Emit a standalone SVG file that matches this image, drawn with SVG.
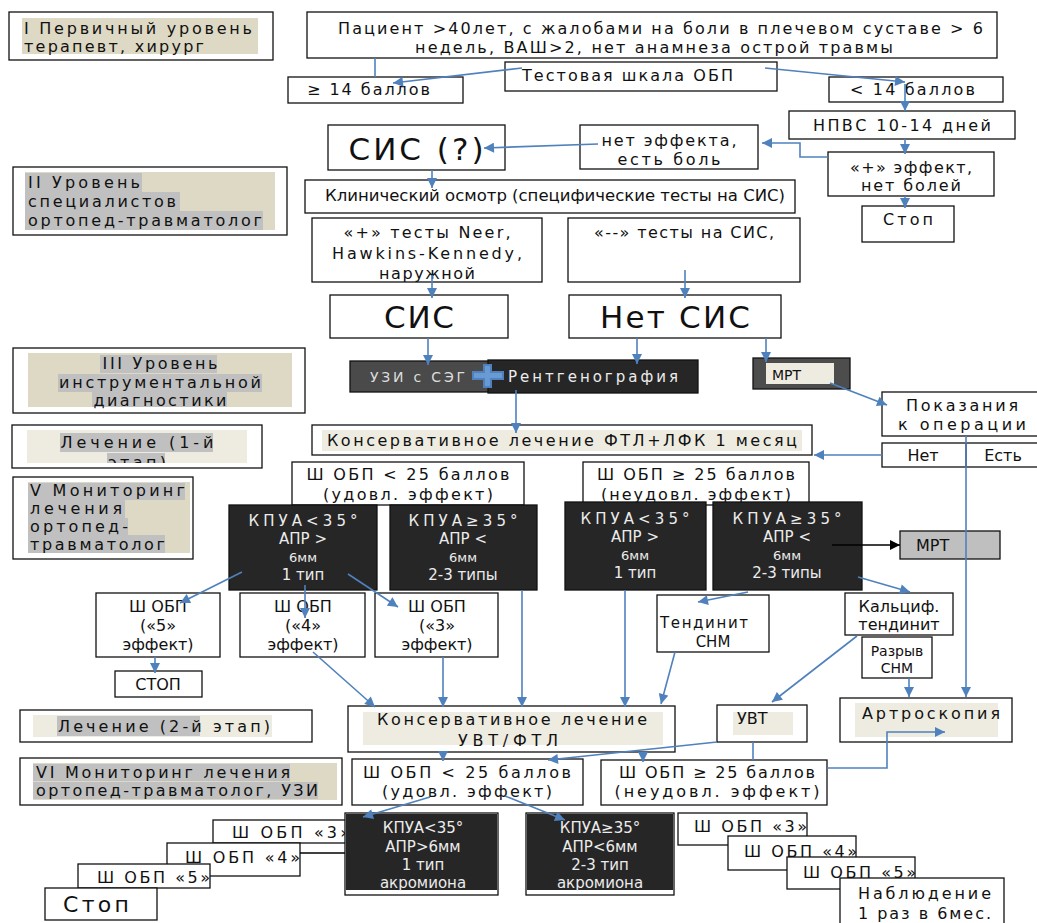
<svg xmlns="http://www.w3.org/2000/svg" width="1037" height="923" viewBox="0 0 1037 923">
<style>
text{font-family:"DejaVu Sans","Liberation Sans",Verdana,sans-serif;font-size:16px;fill:#111}
.b{fill:#fff;stroke:#111;stroke-width:1.3}
.d{fill:#262626;stroke:#111;stroke-width:1.3}
.w{fill:#ececec;font-size:15px}
.m{text-anchor:middle}
.big{font-size:31px}
.s{font-size:13px}
.c{fill:none;stroke:#4f81bd;stroke-width:1.6}
.k{fill:none;stroke:#000;stroke-width:1.3}
.hb{fill:#ddd9c4}.hg{fill:#c0c0c0}.hl{fill:#eeece1}
</style>
<defs>
<marker id="a" viewBox="0 0 10 10" refX="10" refY="5" markerWidth="11" markerHeight="10" markerUnits="userSpaceOnUse" orient="auto"><path d="M0,0 L10,5 L0,10 z" fill="#4f81bd"/></marker>
<marker id="ak" viewBox="0 0 10 10" refX="10" refY="5" markerWidth="11" markerHeight="10" markerUnits="userSpaceOnUse" orient="auto"><path d="M0,0 L10,5 L0,10 z" fill="#000"/></marker>
<clipPath id="cl4"><rect x="12" y="425" width="250" height="38"/></clipPath>
</defs>
<rect width="1037" height="923" fill="#fff"/>

<g id="lvl1"><rect class="b" x="9" y="12" width="264" height="48"/><rect class="hb" x="22" y="18" width="236" height="36"/>
<text x="24" y="34" textLength="228">I Первичный уровень</text><text x="24" y="52" textLength="180">терапевт, хирург</text></g>

<g id="patient"><rect class="b" x="307" y="12" width="690" height="46"/>
<text x="338" y="34" textLength="645">Пациент &gt;40лет, с жалобами на боли в плечевом суставе &gt; 6</text>
<text x="415" y="53" textLength="478">недель, ВАШ&gt;2, нет анамнеза острой травмы</text></g>

<g id="test"><rect class="b" x="505" y="62" width="272" height="29"/><text x="522" y="81" textLength="211">Тестовая шкала ОБП</text></g>
<g id="ge14"><rect class="b" x="288" y="77" width="175" height="26"/><text x="307" y="95" textLength="123">≥ 14 баллов</text></g>
<g id="lt14"><rect class="b" x="829" y="77" width="174" height="25"/><text x="850" y="95" textLength="125">&lt; 14 баллов</text></g>
<g id="nsaid"><rect class="b" x="789" y="111" width="226" height="28"/><text class="m" x="902" y="131" textLength="178">НПВС 10-14 дней</text></g>
<g id="sisq"><rect class="b" x="328" y="125" width="177" height="45"/><text class="m big" x="416" y="160" textLength="135">СИС (?)</text></g>
<g id="noeff"><rect class="b" x="580" y="125" width="178" height="44"/><text class="m" x="669" y="146" textLength="135">нет эффекта,</text><text class="m" x="669" y="165" textLength="103">есть боль</text></g>
<g id="poseff"><rect class="b" x="828" y="152" width="166" height="44"/><text class="m" x="911" y="173" textLength="122">«+» эффект,</text><text class="m" x="911" y="191" textLength="100">нет болей</text></g>
<g id="stop1"><rect class="b" x="862" y="206" width="92" height="36"/><text class="m" x="908" y="225" textLength="50">Стоп</text></g>

<g id="lvl2"><rect class="b" x="13" y="167" width="274" height="68"/><rect class="hb" x="25" y="172" width="250" height="58"/>
<rect class="hg" x="25" y="173" width="117" height="19"/><rect class="hg" x="25" y="192" width="155" height="19"/><rect class="hg" x="25" y="211" width="238" height="19"/>
<text x="28" y="188" textLength="112">II Уровень</text><text x="28" y="207" textLength="148">специалистов</text><text x="28" y="226" textLength="234">ортопед-травматолог</text></g>

<g id="clin"><rect class="b" x="305" y="180" width="490" height="33"/><text x="325" y="201" textLength="460" lengthAdjust="spacingAndGlyphs">Клинический осмотр (специфические тесты на СИС)</text></g>
<g id="postest"><rect class="b" x="312" y="218" width="230" height="64"/><text class="m" x="427" y="238" textLength="167">«+» тесты Neer,</text><text class="m" x="427" y="259" textLength="190">Hawkins-Kennedy,</text><text class="m" x="427" y="279" textLength="96">наружной</text></g>
<g id="negtest"><rect class="b" x="568" y="218" width="232" height="64"/><text class="m" x="684" y="238" textLength="180">«--» тесты на СИС,</text></g>
<g id="sis"><rect class="b" x="330" y="295" width="178" height="43"/><text class="m big" x="419" y="328" textLength="70">СИС</text></g>
<g id="nosis"><rect class="b" x="569" y="295" width="212" height="43"/><text class="m big" x="675" y="328" textLength="150">Нет СИС</text></g>

<g id="lvl3"><rect class="b" x="13" y="348" width="292" height="65"/><rect class="hb" x="28" y="353" width="264" height="54"/>
<rect class="hg" x="100" y="355" width="117" height="18"/><rect class="hg" x="58" y="374" width="204" height="18"/><rect class="hg" x="92" y="392" width="135" height="15"/>
<text class="m" x="160" y="369" textLength="115">III Уровень</text><text class="m" x="160" y="388" textLength="202">инструментальной</text><text class="m" x="160" y="406" textLength="133">диагностики</text></g>

<g id="us"><rect x="350" y="361" width="140" height="31" fill="#4a4a4a" stroke="#111" stroke-width="1.3"/><text x="370" y="382" style="fill:#ddd;font-size:14px" textLength="95">УЗИ с СЭГ</text></g>
<g id="xray"><rect class="d" x="488" y="360" width="210" height="33"/><text x="508" y="382" class="w" textLength="170">Рентгенография</text></g>
<g id="plus"><path d="M483,364 h9 v7 h12 v9 h-12 v8 h-9 v-8 h-11 v-9 h11 z" fill="#4f81bd"/><path d="M485,366 h5 v7 h12 v5 h-12 v8 h-5 v-8 h-11 v-5 h11 z" fill="#6a9ad4"/></g>
<g id="mri1"><rect x="753" y="358" width="97" height="31" fill="#4d4d4d" stroke="#111" stroke-width="1.3"/><rect class="hl" x="766" y="363" width="68" height="21"/><text x="772" y="380" style="font-size:14px">МРТ</text></g>
<g id="indic"><rect class="b" x="882" y="392" width="160" height="44"/><text class="m" x="962" y="411" textLength="112">Показания</text><text class="m" x="962" y="430" textLength="128">к операции</text></g>
<g id="yesno"><rect class="b" x="882" y="443" width="160" height="24"/><line x1="966" y1="443" x2="966" y2="467" class="k"/><text class="m" x="923" y="461">Нет</text><text class="m" x="1003" y="461">Есть</text></g>

<g id="lvl4"><rect class="b" x="12" y="425" width="250" height="43"/><rect class="hl" x="27" y="430" width="220" height="33"/>
<g clip-path="url(#cl4)"><rect class="hg" x="60" y="433" width="153" height="19"/><rect class="hg" x="107" y="453" width="58" height="10"/>
<text class="m" x="137" y="448" textLength="153">Лечение (1-й</text><text class="m" x="137" y="468" textLength="58">этап)</text></g></g>

<g id="cons1"><rect class="b" x="312" y="425" width="500" height="30"/><rect class="hl" x="322" y="430" width="480" height="21"/><text x="327" y="446" textLength="470">Консервативное лечение ФТЛ+ЛФК 1 месяц</text></g>

<g id="lvl5"><rect class="b" x="13" y="477" width="180" height="82"/><rect class="hb" x="28" y="482" width="162" height="71"/>
<rect class="hg" x="28" y="483" width="157" height="17"/><rect class="hg" x="28" y="500" width="97" height="18"/><rect class="hg" x="28" y="518" width="100" height="17"/><rect class="hg" x="28" y="535" width="137" height="18"/>
<text x="30" y="496" textLength="155">V Мониторинг</text><text x="30" y="514" textLength="92">лечения</text><text x="30" y="532" textLength="98">ортопед-</text><text x="30" y="550" textLength="135">травматолог</text></g>

<g id="lt25a"><rect class="b" x="292" y="462" width="232" height="43"/><text class="m" x="408" y="480" textLength="203">Ш ОБП &lt; 25 баллов</text><text class="m" x="408" y="500" textLength="170">(удовл. эффект)</text></g>
<g id="ge25a"><rect class="b" x="583" y="462" width="226" height="43"/><text class="m" x="696" y="480" textLength="198">Ш ОБП ≥ 25 баллов</text><text class="m" x="696" y="500" textLength="190">(неудовл. эффект)</text></g>

<g id="da"><rect class="d" x="229" y="505" width="148" height="85"/><text class="m w" x="303" y="526" textLength="109">КПУА&lt;35°</text><text class="m w" x="303" y="544">АПР &gt;</text><text class="m w s" x="303" y="562">6мм</text><text class="m w" x="303" y="580">1 тип</text></g>
<g id="db"><rect class="d" x="390" y="505" width="147" height="85"/><text class="m w" x="463" y="526" textLength="109">КПУА≥35°</text><text class="m w" x="463" y="544">АПР &lt;</text><text class="m w s" x="463" y="562">6мм</text><text class="m w" x="463" y="580">2-3 типы</text></g>
<g id="dc"><rect class="d" x="565" y="502" width="141" height="88"/><text class="m w" x="635" y="524" textLength="109">КПУА&lt;35°</text><text class="m w" x="635" y="542">АПР &gt;</text><text class="m w s" x="635" y="560">6мм</text><text class="m w" x="635" y="578">1 тип</text></g>
<g id="dd"><rect class="d" x="713" y="502" width="149" height="88"/><text class="m w" x="787" y="524" textLength="109">КПУА≥35°</text><text class="m w" x="787" y="542">АПР &lt;</text><text class="m w s" x="787" y="560">6мм</text><text class="m w" x="787" y="578">2-3 типы</text></g>
<g id="mri2"><rect x="900" y="531" width="100" height="28" fill="#bfbfbf" stroke="#111" stroke-width="1.3"/><text x="916" y="551">МРТ</text></g>

<g id="e5"><rect class="b" x="96" y="593" width="124" height="64"/><text class="m" x="158" y="612">Ш ОБП</text><text class="m" x="158" y="631">(«5»</text><text class="m" x="158" y="650">эффект)</text></g>
<g id="e4"><rect class="b" x="240" y="593" width="125" height="64"/><text class="m" x="303" y="612">Ш ОБП</text><text class="m" x="303" y="631">(«4»</text><text class="m" x="303" y="650">эффект)</text></g>
<g id="e3"><rect class="b" x="375" y="593" width="123" height="64"/><text class="m" x="437" y="612">Ш ОБП</text><text class="m" x="437" y="631">(«3»</text><text class="m" x="437" y="650">эффект)</text></g>
<g id="stop2"><rect class="b" x="115" y="671" width="87" height="26"/><text class="m" x="158" y="690">СТОП</text></g>
<g id="tend"><rect class="b" x="657" y="595" width="112" height="57"/><text x="660" y="628" style="font-size:15px" textLength="88">Тендинит</text><text class="m" x="713" y="647" style="font-size:15px">СНМ</text></g>
<g id="calc"><rect class="b" x="845" y="593" width="108" height="42"/><text class="m" x="899" y="612">Кальциф.</text><text class="m" x="899" y="630">тендинит</text></g>
<g id="rupt"><rect class="b" x="862" y="637" width="70" height="41"/><text class="m" x="897" y="656" style="font-size:14px">Разрыв</text><text class="m" x="897" y="673" style="font-size:14px">СНМ</text></g>

<g id="cons2"><rect class="b" x="348" y="706" width="327" height="46"/><rect class="hl" x="363" y="712" width="300" height="33"/><text class="m" x="512" y="725" textLength="270">Консервативное лечение</text><text class="m" x="508" y="746" textLength="100">УВТ/ФТЛ</text></g>
<g id="uvt"><rect class="b" x="717" y="705" width="90" height="37"/><rect class="hl" x="733" y="712" width="60" height="23"/><text x="737" y="724">УВТ</text></g>
<g id="arthro"><rect class="b" x="840" y="698" width="172" height="44"/><rect class="hl" x="855" y="703" width="143" height="34"/><text x="862" y="719" textLength="138">Артроскопия</text></g>

<g id="lvl6"><rect class="b" x="20" y="710" width="292" height="32"/><rect class="hl" x="33" y="715" width="239" height="22"/><rect class="hg" x="57" y="716" width="143" height="20"/><text x="58" y="732" textLength="212">Лечение (2-й этап)</text></g>
<g id="lvl7"><rect class="b" x="20" y="758" width="322" height="47"/><rect class="hb" x="33" y="763" width="304" height="37"/><rect class="hg" x="33" y="764" width="257" height="17"/><rect class="hg" x="33" y="782" width="285" height="17"/>
<text x="36" y="778" textLength="254">VI Мониторинг лечения</text><text x="36" y="796" textLength="282">ортопед-травматолог, УЗИ</text></g>

<g id="lt25b"><rect class="b" x="352" y="759" width="231" height="46"/><text class="m" x="467" y="778" textLength="208">Ш ОБП &lt; 25 баллов</text><text class="m" x="467" y="797" textLength="170">(удовл. эффект)</text></g>
<g id="ge25b"><rect class="b" x="601" y="760" width="226" height="45"/><text class="m" x="717" y="778" textLength="196">Ш ОБП ≥ 25 баллов</text><text class="m" x="717" y="797" textLength="205">(неудовл. эффект)</text></g>

<g id="stackL">
<rect class="b" x="213" y="820" width="134" height="23"/><text x="232" y="838" textLength="118">Ш ОБП «3»</text>
<rect class="b" x="167" y="843" width="133" height="33"/><line class="k" x1="300" y1="853" x2="345" y2="853"/><text x="185" y="863" textLength="115">Ш ОБП «4»</text>
<rect class="b" x="78" y="864" width="132" height="24"/><text x="97" y="883" textLength="113">Ш ОБП «5»</text>
<rect class="b" x="45" y="888" width="112" height="32"/><text x="63" y="912" style="font-size:22px" textLength="66">Стоп</text></g>

<g id="dL"><rect class="b" x="345" y="813" width="153" height="82"/><rect fill="#262626" x="346" y="814" width="151" height="76"/>
<text class="m w" x="423" y="833">КПУА&lt;35°</text><text class="m w" x="423" y="852">АПР&gt;6мм</text><text class="m w" x="423" y="870">1 тип</text><text class="m w" x="423" y="888">акромиона</text></g>
<g id="dR"><rect class="b" x="526" y="813" width="148" height="82"/><rect fill="#262626" x="527" y="814" width="146" height="76"/>
<text class="m w" x="600" y="833">КПУА≥35°</text><text class="m w" x="600" y="852">АПР&lt;6мм</text><text class="m w" x="600" y="870">2-3 тип</text><text class="m w" x="600" y="888">акромиона</text></g>

<g id="stackR">
<rect class="b" x="678" y="813" width="129" height="32"/><text x="694" y="832" textLength="113">Ш ОБП «3»</text>
<rect class="b" x="728" y="836" width="128" height="34"/><text x="744" y="857" textLength="113">Ш ОБП «4»</text>
<rect class="b" x="787" y="857" width="128" height="32"/><text x="803" y="878" textLength="113">Ш ОБП «5»</text>
<rect class="b" x="840" y="878" width="164" height="50"/><text x="858" y="899" textLength="133">Наблюдение</text><text x="858" y="919" textLength="133">1 раз в 6мес.</text></g>

<g id="connectors">
<path class="c" d="M375,58 V77"/>
<path class="c" d="M522,68 L393,83" marker-end="url(#a)"/>
<path class="c" d="M765,68 L905,82" marker-end="url(#a)"/>
<path class="c" d="M905,84 V111" marker-end="url(#a)"/>
<path class="c" d="M905,139 V154" marker-end="url(#a)"/>
<path class="c" d="M905,196 V208" marker-end="url(#a)"/>
<path class="c" d="M828,157 H800 V143 H762" marker-end="url(#a)"/>
<path class="c" d="M598,144 L484,148" marker-end="url(#a)"/>
<path class="c" d="M432,170 V188" marker-end="url(#a)"/>
<path class="c" d="M432,275 V298" marker-end="url(#a)"/>
<path class="c" d="M685,270 V298" marker-end="url(#a)"/>
<path class="c" d="M428,338 V365" marker-end="url(#a)"/>
<path class="c" d="M637,338 V364" marker-end="url(#a)"/>
<path class="c" d="M766,338 V362" marker-end="url(#a)"/>
<path class="c" d="M516,390 V433" marker-end="url(#a)"/>
<path class="c" d="M830,383 L887,405" marker-end="url(#a)"/>
<path class="c" d="M882,455 H814" marker-end="url(#a)"/>
<path class="c" d="M966,436 V697" marker-end="url(#a)"/>
<path class="c" d="M242,572 L180,603" marker-end="url(#a)"/>
<path class="c" d="M305,585 V618" marker-end="url(#a)"/>
<path class="c" d="M348,574 L398,607" marker-end="url(#a)"/>
<path class="c" d="M155,657 V673" marker-end="url(#a)"/>
<path class="c" d="M313,652 L375,707" marker-end="url(#a)"/>
<path class="c" d="M443,657 V707" marker-end="url(#a)"/>
<path class="c" d="M522,590 V707" marker-end="url(#a)"/>
<path class="c" d="M625,590 V707" marker-end="url(#a)"/>
<path class="c" d="M675,652 L661,704" marker-end="url(#a)"/>
<path class="c" d="M748,592 L698,602" marker-end="url(#a)"/>
<path class="c" d="M858,577 L910,592" marker-end="url(#a)"/>
<path class="c" d="M857,636 L772,702" marker-end="url(#a)"/>
<path class="c" d="M909,678 V697" marker-end="url(#a)"/>
<path class="k" d="M832,545 H900" marker-end="url(#ak)"/>
<path class="c" d="M443,752 V761" marker-end="url(#a)"/>
<path class="c" d="M643,752 V762" marker-end="url(#a)"/>
<path class="c" d="M717,742 L548,760" marker-end="url(#a)"/>
<path class="c" d="M753,742 V760"/>
<path class="c" d="M827,768 H887 V732 H945" marker-end="url(#a)"/>
<path class="c" d="M430,797 L363,817" marker-end="url(#a)"/>
<path class="c" d="M505,796 L565,820" marker-end="url(#a)"/>
</g>
</svg>
